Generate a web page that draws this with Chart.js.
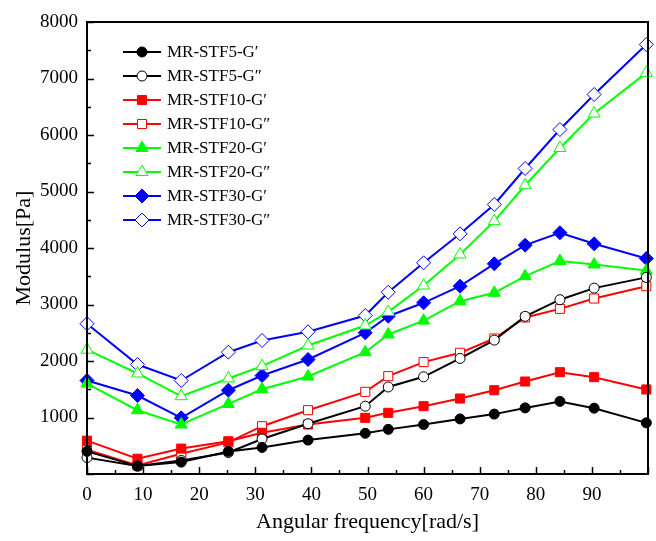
<!DOCTYPE html>
<html>
<head>
<meta charset="utf-8">
<script src="https://cdn.jsdelivr.net/npm/chart.js@4/dist/chart.umd.min.js"></script>
<style>
  html, body { margin: 0; padding: 0; background: #fff; }
  #wrap { width: 656px; height: 541px; }
</style>
</head>
<body>
<div id="wrap"><canvas id="modChart" width="656" height="541"></canvas></div>
<script>
// angular frequency [rad/s]
const freq = [0, 9, 16.8, 25.2, 31.2, 39.4, 49.6, 53.7, 60, 66.5, 72.6, 78.1, 84.3, 90.4, 99.7];

// modulus [Pa]
const stf5G1  = [400, 140, 210, 400, 470, 600, 720, 790, 875, 975, 1060, 1170, 1285, 1165, 905];
const stf5G2  = [290, 140, 240, 380, 620, 890, 1200, 1540, 1720, 2045, 2370, 2790, 3085, 3290, 3480];
const stf10G1 = [590, 270, 450, 580, 730, 876, 994, 1083, 1200, 1336, 1483, 1637, 1802, 1714, 1496];
const stf10G2 = [430, 150, 360, 560, 846, 1129, 1454, 1732, 1980, 2145, 2398, 2770, 2923, 3106, 3324];
const stf20G1 = [1600, 1129, 876, 1240, 1500, 1725, 2156, 2470, 2715, 3058, 3207, 3501, 3770, 3708, 3600];
const stf20G2 = [2200, 1779, 1377, 1690, 1908, 2274, 2628, 2870, 3336, 3885, 4475, 5110, 5770, 6380, 7100];
const stf30G1 = [1655, 1389, 994, 1483, 1743, 2027, 2499, 2793, 3030, 3324, 3720, 4050, 4270, 4074, 3814];
const stf30G2 = [2660, 1938, 1655, 2156, 2363, 2517, 2805, 3218, 3738, 4251, 4770, 5407, 6097, 6717, 7602];

const seriesNames = [
  "MR-STF5-G\u2032", "MR-STF5-G\u2033",
  "MR-STF10-G\u2032", "MR-STF10-G\u2033",
  "MR-STF20-G\u2032", "MR-STF20-G\u2033",
  "MR-STF30-G\u2032", "MR-STF30-G\u2033"
];

const xTicks = [0, 10, 20, 30, 40, 50, 60, 70, 80, 90];
const yTicks = [1000, 2000, 3000, 4000, 5000, 6000, 7000, 8000];

const serif = "'Liberation Serif', 'Times New Roman', serif";

function makeSet(label, values, color, style, filled) {
  const radius = { circle: 5, rect: 6.4, triangle: 7, rectRot: 7 }[style];
  return {
    label: label,
    data: values.map((v, i) => ({ x: freq[i], y: v })),
    borderColor: color,
    backgroundColor: color,
    borderWidth: 2,
    tension: 0,
    pointStyle: style,
    pointRadius: radius,
    pointHoverRadius: radius,
    pointBackgroundColor: filled ? color : "#ffffff",
    pointBorderColor: color,
    pointBorderWidth: 1,
    clip: false
  };
}

const datasets = [
  makeSet(seriesNames[0], stf5G1, "#000000", "circle", true),
  makeSet(seriesNames[1], stf5G2, "#000000", "circle", false),
  makeSet(seriesNames[2], stf10G1, "#ff0000", "rect", true),
  makeSet(seriesNames[3], stf10G2, "#ff0000", "rect", false),
  makeSet(seriesNames[4], stf20G1, "#00ff00", "triangle", true),
  makeSet(seriesNames[5], stf20G2, "#00ff00", "triangle", false),
  makeSet(seriesNames[6], stf30G1, "#0000ff", "rectRot", true),
  makeSet(seriesNames[7], stf30G2, "#0000ff", "rectRot", false)
];

// frame, inward ticks and the legend box drawn over the plot
const framePlugin = {
  id: "frame",
  afterDraw(chart) {
    const ctx = chart.ctx;
    const a = chart.chartArea;
    const xs = chart.scales.x, ys = chart.scales.y;
    ctx.save();
    ctx.strokeStyle = "#000";
    ctx.lineWidth = 2;
    ctx.strokeRect(a.left, a.top, a.right - a.left, a.bottom - a.top);

    ctx.lineWidth = 1.5;
    ctx.beginPath();
    for (let v = 0; v <= 100; v += 5) {
      const px = Math.round(xs.getPixelForValue(v)) + 0.5;
      const len = v % 10 === 0 ? 7 : 4;
      ctx.moveTo(px, a.bottom);
      ctx.lineTo(px, a.bottom - len);
    }
    for (let v = 0; v <= 8000; v += 500) {
      const py = Math.round(ys.getPixelForValue(v)) + 0.5;
      const len = v % 1000 === 0 ? 7 : 4;
      ctx.moveTo(a.left, py);
      ctx.lineTo(a.left + len, py);
    }
    ctx.stroke();

    // legend
    const lx = a.left + 36, ly = a.top + 30, rowH = 24;
    ctx.font = "17px " + serif;
    ctx.textBaseline = "middle";
    ctx.textAlign = "left";
    chart.data.datasets.forEach((ds, i) => {
      const y = ly + i * rowH;
      ctx.strokeStyle = ds.borderColor;
      ctx.lineWidth = 2;
      ctx.beginPath();
      ctx.moveTo(lx, y);
      ctx.lineTo(lx + 38, y);
      ctx.stroke();
      ctx.fillStyle = ds.pointBackgroundColor;
      ctx.strokeStyle = ds.pointBorderColor;
      ctx.lineWidth = 1;
      Chart.helpers.drawPoint(ctx, {
        pointStyle: ds.pointStyle, radius: ds.pointRadius, rotation: 0, borderWidth: 1
      }, lx + 19, y);
      ctx.fillStyle = "#000";
      ctx.fillText(ds.label, lx + 44, y + 1);
    });
    ctx.restore();
  }
};

new Chart(document.getElementById("modChart"), {
  type: "line",
  data: { datasets: datasets },
  plugins: [framePlugin],
  options: {
    responsive: false,
    animation: false,
    layout: { padding: { top: 22, right: 6, left: 0, bottom: 0 } },
    plugins: {
      legend: { display: false },
      tooltip: { enabled: false }
    },
    scales: {
      x: {
        type: "linear",
        min: 0,
        max: 100,
        afterFit: s => { s.height = 67; },
        afterBuildTicks: s => { s.ticks = xTicks.map(v => ({ value: v })); },
        grid: { display: false, drawTicks: false },
        border: { display: false },
        ticks: {
          color: "#000",
          padding: 10,
          maxRotation: 0,
          callback: v => String(v),
          font: { family: serif, size: 19 }
        },
        title: {
          display: true,
          text: "Angular frequency[rad/s]",
          color: "#000",
          font: { family: serif, size: 22 },
          padding: { top: 0, bottom: 6 }
        }
      },
      y: {
        type: "linear",
        min: 0,
        max: 8000,
        afterFit: s => { s.width = 87; },
        afterBuildTicks: s => { s.ticks = yTicks.map(v => ({ value: v })); },
        grid: { display: false, drawTicks: false },
        border: { display: false },
        ticks: {
          color: "#000",
          padding: 9,
          callback: v => String(v),
          font: { family: serif, size: 19 }
        },
        title: {
          display: true,
          text: "Modulus[Pa]",
          color: "#000",
          font: { family: serif, size: 22 },
          padding: { top: 11, bottom: 0 }
        }
      }
    }
  }
});
</script>
</body>
</html>
